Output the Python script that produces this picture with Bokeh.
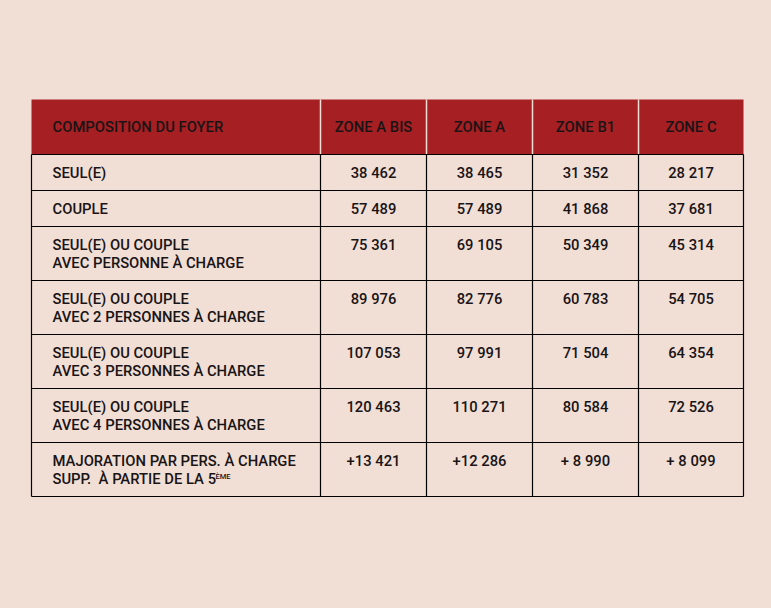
from bokeh.plotting import figure
from bokeh.models import Range1d
from bokeh.core.properties import value
from bokeh.embed import file_html
from bokeh.resources import INLINE

# ---- data ----
header = ["COMPOSITION DU FOYER", "ZONE A BIS", "ZONE A", "ZONE B1", "ZONE C"]
row_labels = [
    ["SEUL(E)"],
    ["COUPLE"],
    ["SEUL(E) OU COUPLE", "AVEC PERSONNE À CHARGE"],
    ["SEUL(E) OU COUPLE", "AVEC 2 PERSONNES À CHARGE"],
    ["SEUL(E) OU COUPLE", "AVEC 3 PERSONNES À CHARGE"],
    ["SEUL(E) OU COUPLE", "AVEC 4 PERSONNES À CHARGE"],
    ["MAJORATION PAR PERS. À CHARGE", "SUPP.\u00a0 À PARTIE DE LA 5"],
]
superscript = "ÈME"
zone_a_bis = ["38 462", "57 489", "75 361", "89 976", "107 053", "120 463", "+13 421"]
zone_a = ["38 465", "57 489", "69 105", "82 776", "97 991", "110 271", "+12 286"]
zone_b1 = ["31 352", "41 868", "50 349", "60 783", "71 504", "80 584", "+ 8 990"]
zone_c = ["28 217", "37 681", "45 314", "54 705", "64 354", "72 526", "+ 8 099"]
values = [zone_a_bis, zone_a, zone_b1, zone_c]

# ---- layout ----
BG = "#F1DFD5"
RED = "#A61F22"
INK = "#1A1416"
FONT = "Roboto Medium"
FS = "14.8px"
STYLE = "normal"

col_edges = [31, 320, 426, 532, 638, 743]
top = 99
header_h = 55
line_h = 18

row_tops = []
y = top + header_h
for lab in row_labels:
    row_tops.append(y)
    y += line_h * (len(lab) + 1)
bottom = y

p = figure(width=755, height=592, output_backend="svg", toolbar_location=None,
           x_range=Range1d(0, 755), y_range=Range1d(592, 0),
           min_border=0, outline_line_color=None,
           background_fill_color=BG, border_fill_color=BG)
p.axis.visible = False
p.grid.visible = False

# header cells
p.quad(left=col_edges[:-1], right=col_edges[1:], top=[top] * 5, bottom=[top + header_h] * 5,
       fill_color=RED, line_color=None)
# header separators (light)
p.segment(x0=col_edges[1:-1], x1=col_edges[1:-1], y0=[top] * 4, y1=[top + header_h] * 4,
          line_color=BG, line_width=1.5)

# body grid lines
hy = [top + header_h] + [t + line_h * (len(l) + 1) for t, l in zip(row_tops, row_labels)]
p.segment(x0=[col_edges[0]] * len(hy), x1=[col_edges[-1]] * len(hy), y0=hy, y1=hy,
          line_color="black", line_width=1.2)
p.segment(x0=col_edges, x1=col_edges, y0=[top + header_h] * len(col_edges), y1=[bottom] * len(col_edges),
          line_color="black", line_width=1.2)

# header text
p.text(x=[52], y=[top + header_h / 2], text=[header[0]], text_font=value(FONT), text_font_size=FS,
       text_font_style=STYLE, text_align="left", text_baseline="middle", text_color=INK)
cx = [(a + b) / 2 for a, b in zip(col_edges[1:-1], col_edges[2:])]
p.text(x=cx, y=[top + header_h / 2] * 4, text=header[1:], text_font=value(FONT), text_font_size=FS,
       text_font_style=STYLE, text_align="center", text_baseline="middle", text_color=INK)

# row labels
lx, ly, lt = [], [], []
for t, lab in zip(row_tops, row_labels):
    for i, s in enumerate(lab):
        lx.append(52)
        ly.append(t + line_h + line_h * i)
        lt.append(s)
p.text(x=lx, y=ly, text=lt, text_font=value(FONT), text_font_size=FS, text_font_style=STYLE,
       text_align="left", text_baseline="middle", text_color=INK)

# superscript
last_t = row_tops[-1]
p.text(x=[215], y=[last_t + 2 * line_h - 2], text=[superscript], text_font=value(FONT),
       text_font_size="7.5px", text_font_style=STYLE, text_align="left", text_baseline="middle",
       text_color=INK)

# values
vx, vy, vt = [], [], []
for c, col in zip(cx, values):
    for t, v in zip(row_tops, col):
        vx.append(c)
        vy.append(t + line_h)
        vt.append(v)
p.text(x=vx, y=vy, text=vt, text_font=value(FONT), text_font_size=FS, text_font_style=STYLE,
       text_align="center", text_baseline="middle", text_color=INK)

html = file_html(p, INLINE)
html = html.replace("</head>", "<style>html,body{background:%s;}</style></head>" % BG, 1)
open("out.html", "w").write(html)
